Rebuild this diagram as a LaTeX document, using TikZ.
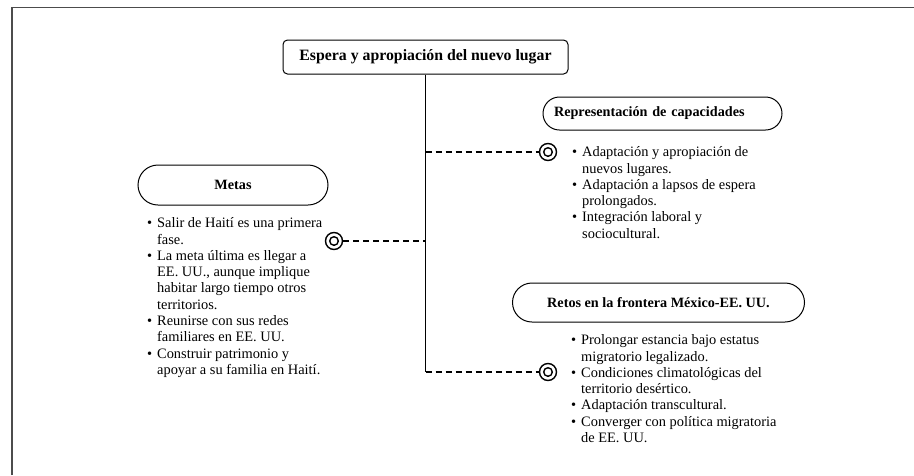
\documentclass[tikz,border=0pt]{standalone}
\usepackage{fontspec}
\setmainfont{Liberation Serif}
\usetikzlibrary{shapes.misc}
\newcommand\bul{\makebox[10pt][l]{\textbullet}}
\newcommand\ind{\hspace*{10pt}}
\begin{document}
\begin{tikzpicture}[x=1pt,y=-1pt,
  frameline/.style={draw=black!70, line width=1.3pt},
  titlebox/.style={draw, rounded corners=4.5pt, line width=1pt, minimum width=285pt, minimum height=34pt, inner sep=0pt,
    font=\fontsize{15.8}{18}\selectfont\bfseries},
  pill/.style={draw, rounded rectangle, line width=1pt, inner sep=0pt,
    font=\fontsize{14.2}{16}\selectfont\bfseries},
  itemlist/.style={align=left, anchor=north west, inner sep=0pt,
    font=\fontsize{14.4}{16.3}\selectfont\frenchspacing},
  target/.style={circle, draw, line width=1.4pt, minimum size=17pt, inner sep=0pt,
    path picture={\draw[line width=1.4pt] (path picture bounding box.center) circle (4.3pt);}},
  trunk/.style={draw, line width=1pt},
  branch/.style={draw, line width=1.1pt, dash pattern=on 6pt off 4pt}
]
\useasboundingbox (0,0) rectangle (914,475);
% frame
\draw[frameline] (12,475) -- (12,7.5) -- (914,7.5);

% title
\node[titlebox] (title) at (425.5,57) {Espera y apropiación del nuevo lugar};

% headers
\node[pill, minimum width=239pt, minimum height=33pt, text width=217pt, align=left] (rep) at (662.5,113.5) {Representación de capacidades};
\node[pill, minimum width=190pt, minimum height=40pt] (metas) at (233,185) {Metas};
\node[pill, minimum width=292pt, minimum height=39pt] (retos) at (658.5,302.5) {Retos en la frontera México-EE.~UU.};

% targets
\node[target] (t1) at (548,152) {};
\node[target] (t2) at (334,241) {};
\node[target] (t3) at (548,372) {};

% lists (north edge = first baseline - 0.7 baselineskip)
\node[itemlist] (replist) at (572,145.1) {\strut\bul Adaptación y apropiación de\\\ind nuevos lugares.\\\bul Adaptación a lapsos de espera\\\ind prolongados.\\\bul Integración laboral y\\\ind sociocultural.};
\node[itemlist] (metaslist) at (147,216.1) {\strut\bul Salir de Haití es una primera\\\ind fase.\\\bul La meta última es llegar a\\\ind EE. UU., aunque implique\\\ind habitar largo tiempo otros\\\ind territorios.\\\bul Reunirse con sus redes\\\ind familiares en EE. UU.\\\bul Construir patrimonio y\\\ind apoyar a su familia en Haití.};
\node[itemlist] (retoslist) at (571,333.1) {\strut\bul Prolongar estancia bajo estatus\\\ind migratorio legalizado.\\\bul Condiciones climatológicas del\\\ind territorio desértico.\\\bul Adaptación transcultural.\\\bul Converger con política migratoria\\\ind de EE. UU.};

% connectors
\coordinate (j1) at (title.south |- t1);
\coordinate (j2) at (title.south |- t2);
\coordinate (j3) at (title.south |- t3);
\draw[trunk] (title.south) -- (j3);
\draw[branch] (j1) -- (t1.west);
\draw[branch] (t2.east) -- (j2);
\draw[branch] (j3) -- (t3.west);
\end{tikzpicture}
\end{document}
